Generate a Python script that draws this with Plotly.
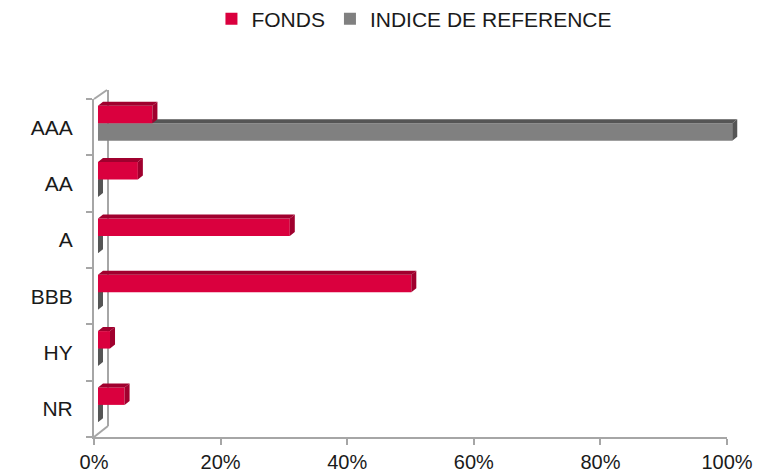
import plotly.graph_objects as go

categories = ["AAA", "AA", "A", "BBB", "HY", "NR"]
fonds = [8.6, 6.3, 30.3, 49.5, 1.9, 4.2]
indice = [100.2, 0, 0, 0, 0, 0]
x_ticks = [0, 20, 40, 60, 80, 100]

RED, RED_DARK = "#DA003E", "#A0002E"
GREY, GREY_DARK = "#808080", "#555555"
AX = "#A6A6A6"
FONT = "Liberation Sans, Arial, sans-serif"
TXT = "#1a1a1a"

BASE = 0.63   # depth shift of bars (in % units)
DX = 0.79     # 3D depth horizontal
DY = 0.071    # 3D depth vertical (category units)

# geometry (figure is 776x464 because the page body adds an 8px margin)
W, H = 776, 464
ML, MT, MB = 86, 91, 35
AXIS_PX = 633                   # pixel length of the visible 0-100% axis
PAPER_W = 650                   # wider paper so long bars are not clipped
MR = W - ML - PAPER_W
XMAX_BARS = 100 * PAPER_W / AXIS_PX
PAPER_H = H - MT - MB

pos = list(range(len(categories)))


def faces(values, offset, width):
    top_x, top_y, side_x, side_y = [], [], [], []
    for p, v in zip(pos, values):
        y0 = p + offset          # visual top edge
        y1 = p + offset + width  # visual bottom edge
        x0, x1 = BASE, BASE + v
        top_x += [x0, x0 + DX, x1 + DX, x1, x0, None]
        top_y += [y0, y0 - DY, y0 - DY, y0, y0, None]
        side_x += [x1, x1 + DX, x1 + DX, x1, x1, None]
        side_y += [y0, y0 - DY, y1 - DY, y1, y0, None]
    return top_x, top_y, side_x, side_y


fig = go.Figure()

# empty trace to anchor the visible axes
fig.add_trace(go.Scatter(x=[], y=[], xaxis="x", yaxis="y", showlegend=False, hoverinfo="skip"))

R_OFF, R_W = -0.38, 0.31
G_OFF, G_W = -0.07, 0.31

# grey series
fig.add_trace(go.Bar(y=pos, x=indice, base=BASE, orientation="h", offset=G_OFF, width=G_W,
                     marker=dict(color=GREY, line=dict(width=0)), name="INDICE DE REFERENCE",
                     xaxis="x3", yaxis="y3", legendrank=2))
tx, ty, sx, sy = faces(indice, G_OFF, G_W)
for xx, yy in ((tx, ty), (sx, sy)):
    fig.add_trace(go.Scatter(x=xx, y=yy, fill="toself", fillcolor=GREY_DARK, mode="lines",
                             line=dict(width=0, color=GREY_DARK), showlegend=False,
                             hoverinfo="skip", xaxis="x3", yaxis="y3"))

# red series (overlay, drawn on top)
fig.add_trace(go.Bar(y=pos, x=fonds, base=BASE, orientation="h", offset=R_OFF, width=R_W,
                     marker=dict(color=RED, line=dict(width=0)), name="FONDS",
                     xaxis="x4", yaxis="y4", legendrank=1))
tx, ty, sx, sy = faces(fonds, R_OFF, R_W)
for xx, yy in ((tx, ty), (sx, sy)):
    fig.add_trace(go.Scatter(x=xx, y=yy, fill="toself", fillcolor=RED_DARK, mode="lines",
                             line=dict(width=0, color=RED_DARK), showlegend=False,
                             hoverinfo="skip", xaxis="x4", yaxis="y4"))

boundaries = [p - 0.5 for p in pos] + [pos[-1] + 0.5]
yr = [5.5, -0.5]


def px_x(p):
    return p / PAPER_W


def px_y(p):
    return p / PAPER_H


fig.update_layout(
    width=W, height=H,
    margin=dict(l=ML, r=MR, t=MT, b=MB, autoexpand=False),
    paper_bgcolor="white", plot_bgcolor="rgba(0,0,0,0)",
    barmode="overlay",
    font=dict(family=FONT, size=20, color=TXT),
    showlegend=True,
    legend=dict(orientation="h", x=0.493, xanchor="center", y=1.0 + px_y(80), yanchor="middle",
                font=dict(size=21, family=FONT, color=TXT),
                traceorder="normal", itemwidth=30),
    xaxis=dict(domain=[0, AXIS_PX / PAPER_W], range=[0, 100], anchor="y",
               tickvals=x_ticks, ticktext=[f"{t}%" for t in x_ticks],
               showgrid=False, zeroline=False, showline=True, linecolor=AX, linewidth=2,
               ticks="outside", ticklen=6, tickcolor=AX, tickwidth=2,
               tickfont=dict(size=20, family=FONT, color=TXT)),
    yaxis=dict(domain=[0, 1], range=yr, anchor="x", tickvals=pos, ticktext=categories,
               showgrid=False, zeroline=False, showline=True, linecolor=AX, linewidth=2,
               ticks="outside", ticklen=15, tickcolor="rgba(0,0,0,0)",
               minor=dict(tickvals=boundaries, ticks="outside", ticklen=6, tickcolor=AX, tickwidth=2),
               tickfont=dict(size=21, family=FONT, color=TXT)),
    xaxis3=dict(domain=[0, 1], range=[0, XMAX_BARS], anchor="y3", visible=False),
    yaxis3=dict(domain=[0, 1], range=yr, anchor="x3", visible=False),
    xaxis4=dict(range=[0, XMAX_BARS], overlaying="x3", anchor="y4", visible=False),
    yaxis4=dict(range=yr, overlaying="y3", anchor="x4", visible=False),
    shapes=[
        dict(type="line", xref="paper", yref="paper", x0=0, y0=1, x1=px_x(13), y1=1 + px_y(9),
             line=dict(color=AX, width=2), layer="below"),
        dict(type="line", xref="paper", yref="paper", x0=px_x(14), y0=px_y(11), x1=px_x(14), y1=1 + px_y(9),
             line=dict(color=AX, width=2), layer="below"),
        dict(type="line", xref="paper", yref="paper", x0=0, y0=0, x1=px_x(14), y1=px_y(11),
             line=dict(color=AX, width=2), layer="below"),
    ],
)

fig.write_html("out.html")
